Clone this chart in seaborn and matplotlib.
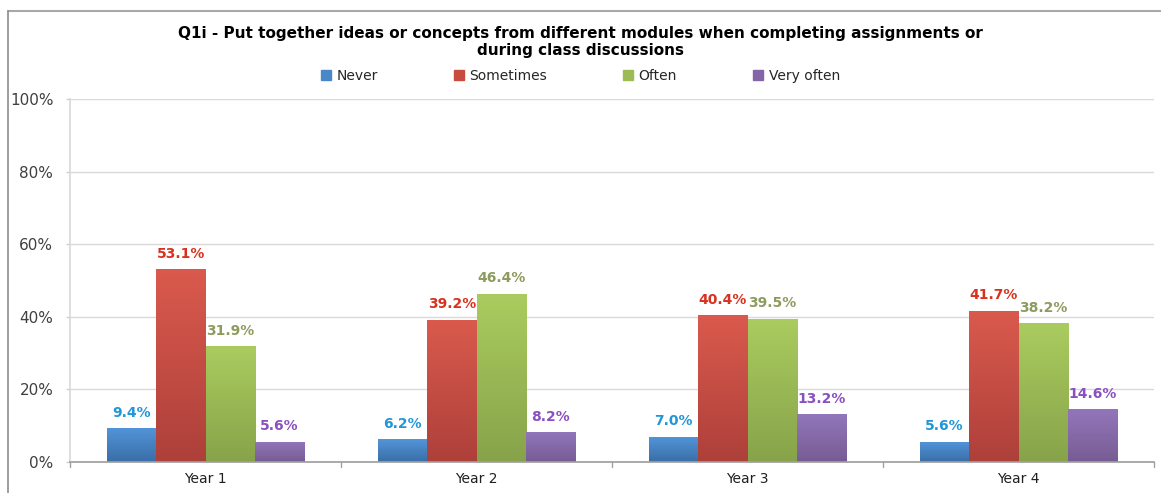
import matplotlib
matplotlib.use("Agg")
import matplotlib.pyplot as plt
import seaborn as sns
import pandas as pd
import numpy as np
from matplotlib.ticker import FuncFormatter, MultipleLocator
from matplotlib.patches import Rectangle
from matplotlib.colors import LinearSegmentedColormap
from matplotlib.lines import Line2D

years = ["Year 1", "Year 2", "Year 3", "Year 4"]
responses = ["Never", "Sometimes", "Often", "Very often"]
never = [9.4, 6.2, 7.0, 5.6]
sometimes = [53.1, 39.2, 40.4, 41.7]
often = [31.9, 46.4, 39.5, 38.2]
very_often = [5.6, 8.2, 13.2, 14.6]

title = "Q1i - Put together ideas or concepts from different modules when completing assignments or\nduring class discussions"

bar_colors = ["#4a87c9", "#c94a40", "#9dbb55", "#8466a8"]
grad_top = ["#5295da", "#da5a4d", "#aacc5f", "#9276bb"]
grad_bot = ["#3a6ea6", "#ad403a", "#87a34a", "#775c93"]
label_colors = ["#2197d8", "#d8321f", "#8e9b5e", "#8a50c0"]

rows = []
for series, vals in zip(responses, [never, sometimes, often, very_often]):
    for y, v in zip(years, vals):
        rows.append({"Year": y, "Response": series, "Value": v})
df = pd.DataFrame(rows)

sns.set_theme(style="white")
plt.rcParams['font.family'] = ['DejaVu Sans']

fig = plt.figure(figsize=(11.61, 4.93), dpi=100)
ax = fig.add_axes([70/1161, 1 - 462/493, (1154-70)/1161, (462-99)/493])

sns.barplot(data=df, x="Year", y="Value", hue="Response", hue_order=responses,
            palette=bar_colors, width=0.73, gap=0, saturation=1, ax=ax,
            legend=False, edgecolor="none")

ax.set_ylim(0, 100)
ax.set_xlim(-0.5, 3.5)

# vertical gradient fill on each bar
grad = np.linspace(1, 0, 256).reshape(-1, 1)
for i, cont in enumerate(ax.containers):
    cmap = LinearSegmentedColormap.from_list(f"g{i}", [grad_bot[i], grad_top[i]])
    for patch in cont.patches:
        x0, y0 = patch.get_x(), patch.get_y()
        w, h = patch.get_width(), patch.get_height()
        im = ax.imshow(grad, cmap=cmap, aspect="auto", extent=[x0, x0 + w, y0, y0 + h],
                       origin="upper", zorder=patch.get_zorder(), vmin=0, vmax=1,
                       interpolation="bilinear")
        im.set_clip_path(patch)

ax.set_ylim(0, 100)
ax.set_xlim(-0.5, 3.5)
ax.yaxis.set_major_locator(MultipleLocator(20))
ax.yaxis.set_major_formatter(FuncFormatter(lambda v, p: f"{v:.0f}%"))
ax.grid(axis="y", color="#d9d9d9", linewidth=1)
ax.set_axisbelow(True)
for s in ["top", "right"]:
    ax.spines[s].set_visible(False)
ax.spines["left"].set_color("#d9d9d9")
ax.spines["bottom"].set_color("#a0a0a0")
ax.set_xlabel("")
ax.set_ylabel("")
ax.tick_params(axis="y", labelsize=11, colors="#d0d0d0", length=3, width=1, pad=9, left=True)
ax.tick_params(axis="x", labelsize=10, colors="#202020", length=0, pad=7)
for lab in ax.get_yticklabels():
    lab.set_color("#404040")

# category boundary ticks
for xb in [-0.5, 0.5, 1.5, 2.5, 3.5]:
    ax.plot([xb, xb], [0, -1.3], color="#a0a0a0", lw=1, clip_on=False)

for i, cont in enumerate(ax.containers):
    ax.bar_label(cont, labels=[f"{v:.1f}%" for v in cont.datavalues], padding=6,
                 color=label_colors[i], fontsize=10, fontweight="bold")

fig.text(0.5, 1 - 42/493, title, ha="center", va="center", fontsize=11,
         fontweight="bold", color="#000000", linespacing=1.15)

handles = [Rectangle((0, 0), 1, 1, color=c) for c in bar_colors]
fig.legend(handles, responses, loc="center", bbox_to_anchor=(0.5, 1 - 76/493),
           ncol=4, frameon=False, fontsize=10, handlelength=0.7, handleheight=0.7,
           columnspacing=5.5, handletextpad=0.4)

# outer frame (only top and left visible in the cropped original)
fig.add_artist(Line2D([8/1161, 1.0], [1 - 11/493, 1 - 11/493], transform=fig.transFigure,
                      color="#a8a8a8", lw=1.5))
fig.add_artist(Line2D([8/1161, 8/1161], [0, 1 - 11/493], transform=fig.transFigure,
                      color="#8c8c8c", lw=1.2))

fig.savefig("out.png", dpi=100)
